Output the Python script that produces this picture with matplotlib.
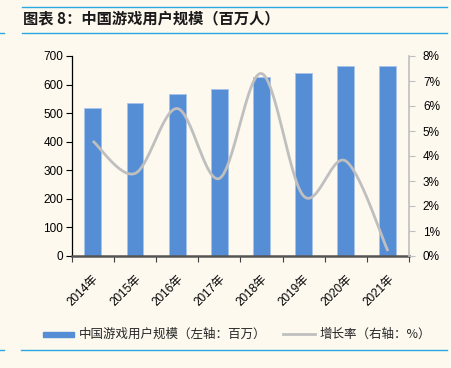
import numpy as np
import matplotlib
matplotlib.use('Agg')
import matplotlib.pyplot as plt
from matplotlib.lines import Line2D

plt.rcParams['font.family'] = ['Liberation Sans', 'Noto Sans CJK SC', 'DejaVu Sans']

# --- 数据 ---
years = ['2014年', '2015年', '2016年', '2017年', '2018年', '2019年', '2020年', '2021年']
users = [517, 534, 566, 583, 626, 640, 665, 666]          # 百万人
growth = [4.6, 3.3, 5.9, 3.1, 7.3, 2.4, 3.8, 0.2]          # %

title = '图表 8：中国游戏用户规模（百万人）'
bar_label = '中国游戏用户规模（左轴：百万）'
line_label = '增长率（右轴：%）'

BG = '#fdf9ef'
BAR = '#558ed5'
LINE = '#bfbfbf'
RULE = '#29a9e1'
W, H = 451, 368


def catmull_rom(x, y, n=30):
    # 类似 Excel 的平滑线
    x = np.asarray(x, float)
    y = np.asarray(y, float)
    px = np.concatenate([[x[0]], x, [x[-1]]])
    py = np.concatenate([[y[0]], y, [y[-1]]])
    xs, ys = [], []
    t = np.linspace(0, 1, n)
    for i in range(1, len(px) - 2):
        p0, p1, p2, p3 = [np.array([px[j], py[j]]) for j in (i - 1, i, i + 1, i + 2)]
        c1 = p1 + (p2 - p0) / 6
        c2 = p2 - (p3 - p1) / 6
        pts = ((1 - t) ** 3)[:, None] * p1 + (3 * (1 - t) ** 2 * t)[:, None] * c1 \
            + (3 * (1 - t) * t ** 2)[:, None] * c2 + (t ** 3)[:, None] * p2
        xs.extend(pts[:, 0])
        ys.extend(pts[:, 1])
    return np.array(xs), np.array(ys)


fig = plt.figure(figsize=(W / 100, H / 100), dpi=100, facecolor=BG)
ax = fig.add_axes([71.7 / W, 1 - 256 / H, (409 - 71.7) / W, 200 / H])
ax.set_facecolor(BG)

x = np.arange(len(years))
ax.bar(x, users, width=0.4, color=BAR, edgecolor='#a9c4ea', linewidth=0.6, zorder=2)
ax.set_xlim(-0.5, len(years) - 0.5)
ax.set_ylim(0, 700)
ax.set_yticks(range(0, 701, 100))
ax.tick_params(axis='y', labelsize=8.5, length=4, width=0.8, direction='out', pad=2)

ax.set_xticks(x)
ax.set_xticklabels(years, rotation=45, ha='right', rotation_mode='anchor',
                   fontsize=8.5, family=['Liberation Sans', 'Noto Sans CJK SC'])
ax.tick_params(axis='x', which='major', length=0, pad=12)
ax.set_xticks(np.arange(-0.5, len(years)), minor=True)
ax.tick_params(axis='x', which='minor', length=4, width=0.8, color='#404040')

ax.spines['top'].set_visible(False)
ax.spines['right'].set_visible(False)
ax.spines['left'].set_linewidth(0.9)
ax.spines['bottom'].set_color('#555555')
ax.spines['bottom'].set_linewidth(1.8)

ax2 = ax.twinx()
sx, sy = catmull_rom(x, growth)
ax2.plot(sx, sy, color=LINE, linewidth=2, zorder=3, solid_capstyle='butt')
ax2.set_ylim(0, 8)
ax2.set_yticks(range(0, 9))
ax2.set_yticklabels([f'{v}%' for v in range(0, 9)])
ax2.tick_params(axis='y', labelsize=8.5, length=4, width=0.8, color=LINE, pad=6)
ax2.spines['top'].set_visible(False)
ax2.spines['left'].set_visible(False)
ax2.spines['bottom'].set_visible(False)
ax2.spines['right'].set_color(LINE)
ax2.spines['right'].set_linewidth(1.2)

# 标题
fig.text(23 / W, 1 - 18 / H, title, fontsize=11, fontweight='bold', style='italic',
         family=['Noto Sans CJK SC'], va='center', ha='left', color='#1a1a1a')

# 蓝色分隔线
for yy, x0 in [(7, 22), (33, 22), (350, 21)]:
    fig.add_artist(Line2D([x0 / W, 447 / W], [1 - yy / H, 1 - yy / H], color=RULE, linewidth=1))
for yy in [33, 350]:
    fig.add_artist(Line2D([0, 4 / W], [1 - yy / H, 1 - yy / H], color=RULE, linewidth=1))

# 图例
ly = 1 - 334 / H
fig.add_artist(plt.Rectangle((43 / W, ly - 2.5 / H), 31 / W, 5 / H, color=BAR, transform=fig.transFigure))
fig.text(79 / W, ly, bar_label, fontsize=9, family=['Noto Sans CJK SC'], va='center', ha='left', color='#262626')
fig.add_artist(Line2D([283 / W, 315 / W], [ly, ly], color=LINE, linewidth=2))
fig.text(320 / W, ly, line_label, fontsize=9, family=['Noto Sans CJK SC'], va='center', ha='left', color='#262626')

fig.savefig('out.png', dpi=100, facecolor=BG)
